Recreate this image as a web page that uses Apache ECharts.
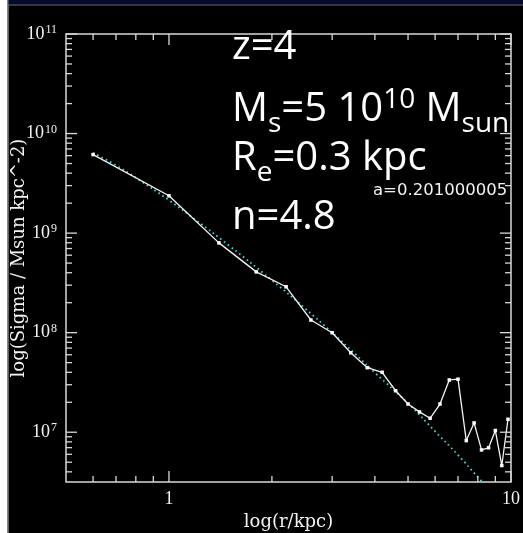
<!DOCTYPE html>
<html>
<head>
<meta charset="utf-8">
<script src="https://cdn.jsdelivr.net/npm/echarts@6/dist/echarts.min.js"></script>
<style>
  html, body { margin: 0; padding: 0; background: #000; }
  #chart { width: 523px; height: 533px; }
</style>
</head>
<body>
<div id="chart"></div>
<script>
// Measured surface-density profile (r in kpc, Sigma in Msun / kpc^2)
const radiusKpc = [0.6, 1.0, 1.4, 1.8, 2.2, 2.6, 3.0, 3.4, 3.8, 4.2, 4.6, 5.0,
                   5.4, 5.8, 6.2, 6.6, 7.0, 7.4, 7.8, 8.2, 8.6, 9.0, 9.4, 9.8];
const sigma = [6.15e9, 2.37e9, 7.98e8, 4.08e8, 2.89e8, 1.34e8, 9.98e7, 6.28e7,
               4.45e7, 4.00e7, 2.61e7, 1.92e7, 1.60e7, 1.38e7, 1.92e7, 3.35e7,
               3.41e7, 8.24e6, 1.24e7, 6.64e6, 6.98e6, 1.04e7, 4.63e6, 1.35e7];

// Sersic fit curve (dotted)
const fitRadius = [0.6, 0.7, 0.8, 1.0, 1.2, 1.5, 2.0, 2.5, 3.0, 3.5, 4.0, 5.0, 6.0, 7.0, 8.0, 9.0];
const fitSigma = [6.4e9, 4.8e9, 3.6e9, 2.14e9, 1.35e9, 7.48e8, 3.36e8, 1.75e8, 1.0e8,
                  6.13e7, 3.96e7, 1.95e7, 1.02e7, 5.9e6, 3.55e6, 2.3e6];

// Axis ticks
const xMajorTicks = [1, 10];
const xTickLabels = ['1', '10'];
const xMinorTicks = [0.6, 0.7, 0.8, 0.9, 2, 3, 4, 5, 6, 7, 8, 9];
const yMajorTicks = [1e7, 1e8, 1e9, 1e10, 1e11];
const yTickExponents = ['7', '8', '9', '10', '11'];
const yMinorTicks = [4e6, 5e6, 6e6, 7e6, 8e6, 9e6,
                     2e7, 3e7, 4e7, 5e7, 6e7, 7e7, 8e7, 9e7,
                     2e8, 3e8, 4e8, 5e8, 6e8, 7e8, 8e8, 9e8,
                     2e9, 3e9, 4e9, 5e9, 6e9, 7e9, 8e9, 9e9,
                     2e10, 3e10, 4e10, 5e10, 6e10, 7e10, 8e10, 9e10];

const lg = Math.log10;
const X_MIN = lg(0.5), X_MAX = 1, Y_MIN = 6.5, Y_MAX = 11;
const AXIS_COLOR = '#d8d8d8';
const SERIF = 'Liberation Serif';
const MAJOR_LEN = 11, MINOR_LEN = 6;

const chart = echarts.init(document.getElementById('chart'), null, { renderer: 'canvas' });

function nearestIndex(list, v) {
  let best = 0;
  list.forEach((t, i) => { if (Math.abs(lg(t) - v) < Math.abs(lg(list[best]) - v)) best = i; });
  return best;
}

// Tick marks on all four sides of the frame: [side, log value, length]
// side: 0 bottom, 1 top, 2 left, 3 right
const tickRows = [];
[0, 1].forEach(side => {
  xMajorTicks.forEach(t => tickRows.push([side, lg(t), MAJOR_LEN]));
  xMinorTicks.forEach(t => tickRows.push([side, lg(t), MINOR_LEN]));
});
[2, 3].forEach(side => {
  yMajorTicks.forEach(t => tickRows.push([side, lg(t), MAJOR_LEN]));
  yMinorTicks.forEach(t => tickRows.push([side, lg(t), MINOR_LEN]));
});

function renderTick(params, api) {
  const side = api.value(0), v = api.value(1), len = api.value(2);
  const cs = params.coordSys;
  let x1, y1, x2, y2;
  if (side < 2) {
    const px = api.coord([v, Y_MIN])[0];
    x1 = x2 = px;
    if (side === 0) { y1 = cs.y + cs.height; y2 = y1 - len; }
    else { y1 = cs.y; y2 = y1 + len; }
  } else {
    const py = api.coord([X_MIN, v])[1];
    y1 = y2 = py;
    if (side === 2) { x1 = cs.x; x2 = x1 + len; }
    else { x1 = cs.x + cs.width; x2 = x1 - len; }
  }
  return {
    type: 'line',
    shape: { x1: x1, y1: y1, x2: x2, y2: y2 },
    style: { stroke: AXIS_COLOR, lineWidth: 1.3 }
  };
}

const richBase = { fill: '#fff', fontFamily: 'Open Sans', fontSize: 40, verticalAlign: 'top', padding: [3, 0, 0, 0] };
const richSub = { fill: '#fff', fontFamily: 'Open Sans', fontSize: 28, verticalAlign: 'top', padding: [24, 0, 0, 0] };
const richSup = { fill: '#fff', fontFamily: 'Open Sans', fontSize: 28, verticalAlign: 'top', padding: [0, 0, 0, 0] };

function annotation(text, top) {
  return {
    type: 'text', left: 232, top: top, z: 100,
    style: { text: text, rich: { b: richBase, sub: richSub, sup: richSup } }
  };
}

const option = {
  backgroundColor: '#000',
  animation: false,
  grid: {
    left: 66, top: 34, right: 12, bottom: 51,
    containLabel: false, outerBoundsMode: 'none',
    show: true, borderColor: AXIS_COLOR, borderWidth: 1.5, backgroundColor: 'transparent'
  },
  xAxis: {
    type: 'value', min: X_MIN, max: X_MAX,
    axisLine: { show: false, onZero: false },
    axisTick: { show: false },
    splitLine: { show: false },
    axisLabel: {
      show: true, margin: 8,
      customValues: xMajorTicks.map(lg),
      color: '#f2f2f2', fontFamily: SERIF, fontSize: 18,
      formatter: v => xTickLabels[nearestIndex(xMajorTicks, v)]
    },
    name: 'log(r/kpc)', nameLocation: 'middle', nameGap: 31, nameMoveOverlap: false,
    nameTextStyle: { color: '#f2f2f2', fontFamily: 'DejaVu Serif', fontSize: 18 }
  },
  yAxis: {
    type: 'value', min: Y_MIN, max: Y_MAX,
    axisLine: { show: false, onZero: false },
    axisTick: { show: false },
    splitLine: { show: false },
    axisLabel: {
      show: true, margin: 9,
      customValues: yMajorTicks.map(lg),
      formatter: v => '{b|10}{s|' + yTickExponents[nearestIndex(yMajorTicks, v)] + '}',
      rich: {
        b: { color: '#f2f2f2', fontFamily: SERIF, fontSize: 18 },
        s: { color: '#f2f2f2', fontFamily: SERIF, fontSize: 12, verticalAlign: 'top', padding: [0, 0, 8, 1] }
      }
    },
    name: 'log(Sigma / Msun kpc^-2)', nameLocation: 'middle', nameGap: 38, nameRotate: 90,
    nameMoveOverlap: false,
    nameTextStyle: { color: '#f2f2f2', fontFamily: 'DejaVu Serif', fontSize: 18 }
  },
  series: [
    {
      type: 'custom',
      name: 'ticks',
      data: tickRows,
      renderItem: renderTick,
      silent: true,
      clip: false,
      z: 5
    },
    {
      type: 'line',
      name: 'fit',
      data: fitRadius.map((r, i) => [lg(r), lg(fitSigma[i])]),
      smooth: true,
      showSymbol: false,
      clip: true,
      lineStyle: { color: '#4fd2d8', width: 1.8, type: [1.6, 3.2] },
      z: 2
    },
    {
      type: 'line',
      name: 'profile',
      data: radiusKpc.map((r, i) => [lg(r), lg(sigma[i])]),
      symbol: 'rect',
      symbolSize: 3.5,
      itemStyle: { color: '#ffffff' },
      lineStyle: { color: '#f4f4f4', width: 1.3 },
      clip: true,
      z: 3
    }
  ],
  graphic: [
    { type: 'rect', shape: { x: 0, y: 0, width: 7.5, height: 533 }, style: { fill: '#ffffff' }, z: 100 },
    { type: 'rect', shape: { x: 7.5, y: 0, width: 1.2, height: 533 }, style: { fill: '#8a8a8a' }, z: 100 },
    { type: 'rect', shape: { x: 8.7, y: 0, width: 515, height: 4.5 }, style: { fill: '#050a2c' }, z: 100 },
    { type: 'rect', shape: { x: 8.7, y: 4.5, width: 515, height: 1 }, style: { fill: '#6a6c7c' }, z: 100 },
    {
      type: 'text', left: 373, top: 182, z: 100,
      style: { text: 'a=0.201000005', fill: '#f2f2f2', font: '16.5px "DejaVu Sans"' }
    },
    annotation('{b|z=4}', 27.5),
    annotation('{b|M}{sub|s}{b|=5 10}{sup|10}{b| M}{sub|sun}', 86.5),
    annotation('{b|R}{sub|e}{b|=0.3 kpc}', 138.5),
    annotation('{b|n=4.8}', 197.5)
  ]
};

chart.setOption(option);
</script>
</body>
</html>
